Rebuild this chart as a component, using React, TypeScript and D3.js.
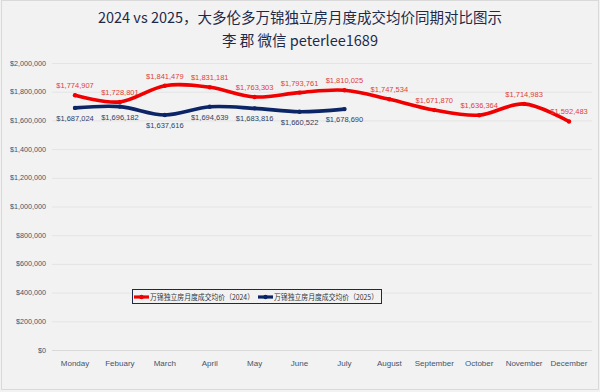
import * as d3 from "d3";
import { FC, useEffect, useRef } from "react";

const MONTHS: string[] = [
  "Monday", "Febuary", "March", "April", "May", "June",
  "July", "August", "September", "October", "November", "December",
];
const PRICE_2024: number[] = [
  1774907, 1728801, 1841479, 1831181, 1763303, 1793761,
  1810025, 1747534, 1671870, 1636364, 1714983, 1592483,
];
const PRICE_2025: number[] = [
  1687024, 1696182, 1637616, 1694639, 1683816, 1660522, 1678690,
];
const Y_TICKS: number[] = [0, 200000, 400000, 600000, 800000, 1000000, 1200000, 1400000, 1600000, 1800000, 2000000];
const SERIES_NAMES: string[] = ["万锦独立房月度成交均价（2024）", "万锦独立房月度成交均价（2025）"];

const W = 600;
const H = 392;
const RED = "#f00000";
const NAVY = "#0b2566";
const FONT = "'Liberation Sans', Arial, sans-serif";
const CJK = "'Noto Sans CJK SC', 'Noto Sans', sans-serif";

const App: FC = () => {
  const ref = useRef<SVGSVGElement | null>(null);

  useEffect(() => {
    if (!ref.current) return;
    const svg = d3.select(ref.current);
    svg.selectAll("*").remove();

    svg.append("rect").attr("width", W).attr("height", H).attr("fill", "#f2f2f2");
    svg.append("rect")
      .attr("x", 1.5).attr("y", 0.5).attr("width", W - 3).attr("height", H - 3)
      .attr("fill", "none").attr("stroke", "#d9d9d9");

    // titles
    svg.append("text")
      .attr("x", 300).attr("y", 23).attr("text-anchor", "middle")
      .attr("font-family", CJK).attr("font-size", 14.5).attr("fill", "#1f2a4a")
      .text("2024 vs 2025，大多伦多万锦独立房月度成交均价同期对比图示");
    svg.append("text")
      .attr("x", 300).attr("y", 46).attr("text-anchor", "middle")
      .attr("font-family", CJK).attr("font-size", 14.5).attr("fill", "#1f2a4a")
      .text("李 郡 微信 peterlee1689");

    const x = d3.scalePoint<string>().domain(MONTHS).range([75, 569]);
    const y = d3.scaleLinear().domain([0, 2000000]).range([350, 63]);

    const g = svg.append("g");
    g.selectAll("line.grid")
      .data(Y_TICKS)
      .enter()
      .append("line")
      .attr("x1", 52).attr("x2", 592)
      .attr("y1", (d) => y(d) + 0.5).attr("y2", (d) => y(d) + 0.5)
      .attr("stroke", (d) => (d === 0 ? "#d9d9d9" : "#e4e4e4"))
      .attr("stroke-width", 1);

    const fmt = d3.format("$,");
    g.selectAll("text.ytick")
      .data(Y_TICKS)
      .enter()
      .append("text")
      .attr("x", 46).attr("y", (d) => y(d) + 2.5)
      .attr("text-anchor", "end")
      .attr("font-family", FONT).attr("font-size", 7.2).attr("fill", "#44546a")
      .text((d) => fmt(d));

    g.selectAll("text.xtick")
      .data(MONTHS)
      .enter()
      .append("text")
      .attr("x", (d) => x(d) as number).attr("y", 366)
      .attr("text-anchor", "middle")
      .attr("font-family", FONT).attr("font-size", 8).attr("fill", "#44546a")
      .text((d) => d);

    const line = d3.line<number>()
      .x((_, i) => x(MONTHS[i]) as number)
      .y((d) => y(d))
      .curve(d3.curveCardinal.tension(0));

    const drawSeries = (data: number[], color: string, labelColor: string, above: boolean) => {
      g.append("path")
        .attr("d", line(data))
        .attr("fill", "none").attr("stroke", color)
        .attr("stroke-width", 3.6).attr("stroke-linecap", "round");
      g.selectAll(null)
        .data(data)
        .enter()
        .append("circle")
        .attr("cx", (_, i) => x(MONTHS[i]) as number)
        .attr("cy", (d) => y(d))
        .attr("r", 2.2).attr("fill", color);
      g.selectAll(null)
        .data(data)
        .enter()
        .append("text")
        .attr("x", (_, i) => x(MONTHS[i]) as number)
        .attr("y", (d) => y(d) + (above ? -7 : 13))
        .attr("text-anchor", "middle")
        .attr("font-family", FONT).attr("font-size", 7.5).attr("fill", labelColor)
        .text((d) => fmt(d));
    };
    drawSeries(PRICE_2024, RED, "#e0403a", true);
    drawSeries(PRICE_2025, NAVY, "#2f3f66", false);

    // legend
    const lg = svg.append("g");
    lg.append("rect")
      .attr("x", 132.5).attr("y", 289.5).attr("width", 249).attr("height", 14)
      .attr("fill", "#f2f2f2").attr("stroke", "#1f2a4a").attr("stroke-width", 1);
    const items = [
      { name: SERIES_NAMES[0], color: RED, x0: 134 },
      { name: SERIES_NAMES[1], color: NAVY, x0: 258 },
    ];
    items.forEach((it) => {
      lg.append("line")
        .attr("x1", it.x0).attr("x2", it.x0 + 15).attr("y1", 297).attr("y2", 297)
        .attr("stroke", it.color).attr("stroke-width", 3.2);
      lg.append("circle").attr("cx", it.x0 + 7.5).attr("cy", 297).attr("r", 2.2).attr("fill", it.color);
      lg.append("text")
        .attr("x", it.x0 + 16).attr("y", 299.8)
        .attr("font-family", CJK).attr("font-size", 7.6).attr("fill", "#333")
        .attr("textLength", 104).attr("lengthAdjust", "spacingAndGlyphs")
        .text(it.name);
    });
  }, []);

  return (
    <svg
      ref={ref}
      width={W}
      height={H}
      style={{ position: "fixed", left: 0, top: 0, display: "block" }}
    />
  );
};

export default App;
